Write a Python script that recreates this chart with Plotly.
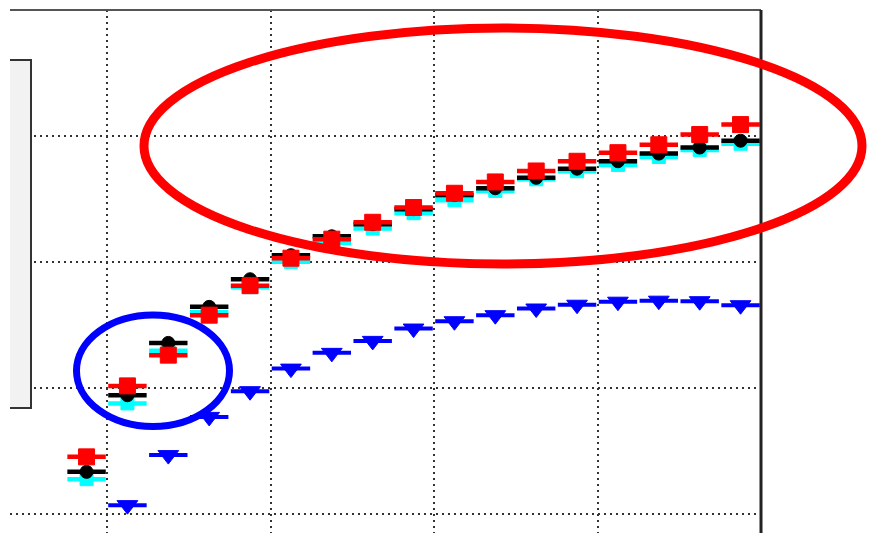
import plotly.graph_objects as go

# ---- data -------------------------------------------------------------
steps = list(range(1, 18))

red_vals = [0.6455, 0.7018, 0.7262, 0.7579, 0.7813, 0.8031, 0.8182, 0.8316,
            0.8433, 0.8546, 0.8636, 0.8723, 0.8800, 0.8868, 0.8931, 0.9012, 0.9091]
black_vals = [0.6336, 0.6944, 0.7359, 0.7645, 0.7864, 0.8055, 0.8205, 0.8301,
              0.8420, 0.8531, 0.8586, 0.8669, 0.8741, 0.8800, 0.8861, 0.8909, 0.8963]
cyan_vals = [0.6278, 0.6879, 0.7296, 0.7603, 0.7801, 0.8002, 0.8152, 0.8266,
             0.8388, 0.8491, 0.8565, 0.8657, 0.8721, 0.8771, 0.8834, 0.8890, 0.8939]
blue_vals = [None, 0.6072, 0.6469, 0.6772, 0.6976, 0.7155, 0.7280, 0.7375,
             0.7473, 0.7531, 0.7579, 0.7632, 0.7662, 0.7686, 0.7694, 0.7690, 0.7658]

x_grid = [1.5, 5.5, 9.5, 13.5, 17.5]
y_grid = [0.6, 0.7, 0.8, 0.9, 1.0]

# ---- figure geometry ------------------------------------------------------
W, H = 870, 533
ML, MR, MT, MB = 10, 109, 10, 0
PW, PH = W - ML - MR, H - MT - MB


def px(x):
    return (x - ML) / PW


def py(y):
    return (H - MB - y) / PH


fig = go.Figure()


def add_series(vals, color, symbol, size, name, bar=4.5):
    fig.add_trace(go.Scatter(
        x=steps, y=vals, mode="markers", name=name,
        marker=dict(symbol=symbol, size=size, color=color,
                    line=dict(width=1, color=color)),
        error_x=dict(type="constant", value=0.47, width=0,
                     thickness=bar, color=color),
        showlegend=False,
    ))


add_series(blue_vals, "#0000ff", "triangle-down", 18, "blue", bar=4)
add_series(cyan_vals, "#00ffff", "square", 13, "cyan")
add_series(black_vals, "#000000", "circle", 13, "black")
add_series(red_vals, "#ff0000", "square", 16, "red")

axis_common = dict(showticklabels=False, ticks="", zeroline=False,
                   showline=False, showgrid=True, gridcolor="#333333",
                   gridwidth=2, griddash="2px,4px")

fig.update_xaxes(range=[-0.873, 17.5], tickmode="array", tickvals=x_grid,
                 **axis_common)
fig.update_yaxes(range=[0.5851, 1.0], tickmode="array", tickvals=y_grid,
                 **axis_common)

shapes = []
# box outline (top and right edges)
shapes.append(dict(type="line", xref="paper", yref="paper", x0=0, x1=1,
                   y0=1, y1=1, line=dict(color="#555555", width=2)))
shapes.append(dict(type="line", xref="paper", yref="paper", x0=1, x1=1,
                   y0=0, y1=1, line=dict(color="#222222", width=3)))

# legend panel on the left
lx0, lx1, ly0, ly1 = 10, 31, 60, 408
shapes.append(dict(type="rect", xref="paper", yref="paper",
                   x0=px(lx0), x1=px(lx1), y0=py(ly1), y1=py(ly0),
                   fillcolor="#f2f2f2", line=dict(width=0)))
shapes.append(dict(type="path", xref="paper", yref="paper",
                   path=(f"M{px(lx0)},{py(ly0)} L{px(lx1)},{py(ly0)} "
                         f"L{px(lx1)},{py(ly1)} L{px(lx0)},{py(ly1)}"),
                   line=dict(color="#333333", width=2)))

# highlight ellipses
shapes.append(dict(type="circle", xref="paper", yref="paper",
                   x0=px(144), x1=px(862), y0=py(264), y1=py(28),
                   line=dict(color="#ff0000", width=9)))
shapes.append(dict(type="circle", xref="paper", yref="paper",
                   x0=px(76.5), x1=px(229.5), y0=py(426.5), y1=py(315),
                   line=dict(color="#0000ff", width=7)))

fig.update_layout(
    width=W, height=H,
    margin=dict(l=ML, r=MR, t=MT, b=MB, pad=0),
    paper_bgcolor="white", plot_bgcolor="white",
    shapes=shapes,
    showlegend=False,
)

fig.write_html("out.html")
